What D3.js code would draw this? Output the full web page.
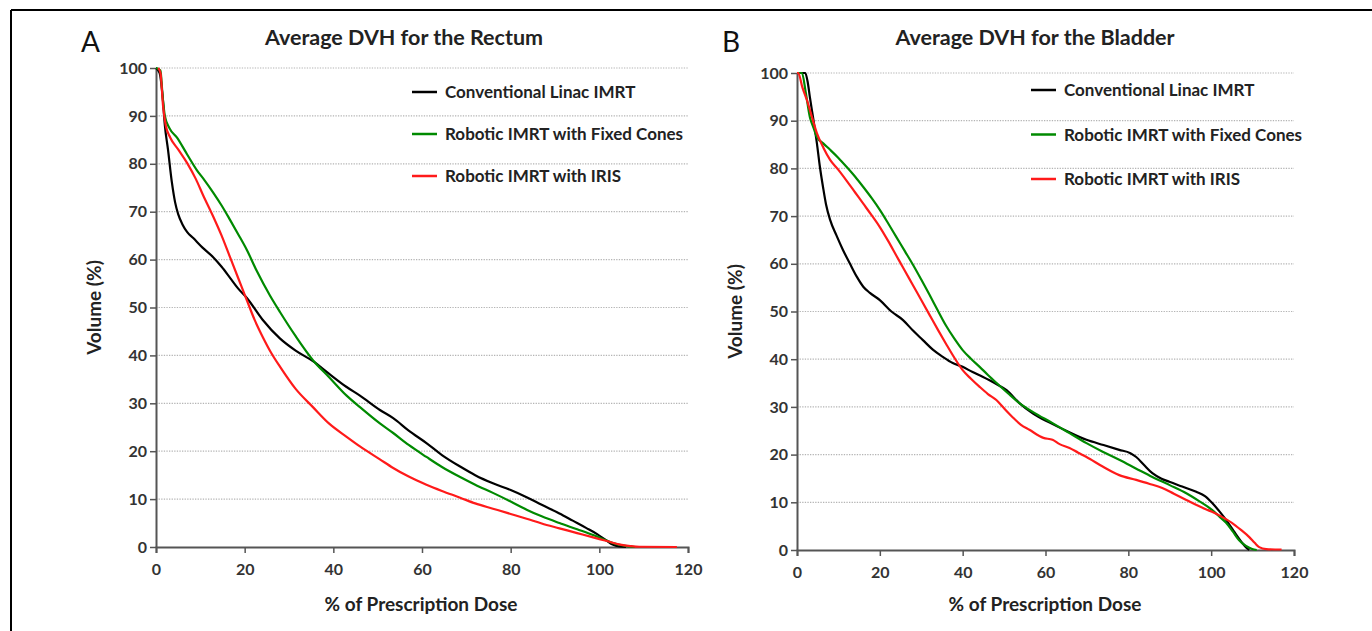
<!DOCTYPE html>
<html>
<head>
<meta charset="utf-8">
<script src="https://cdn.jsdelivr.net/npm/d3@7"></script>
<style>
  body { margin: 0; background: #fff; }
  text { font-family: Lato, "Open Sans", sans-serif; }
  .tick text { font-size: 16px; font-weight: bold; fill: #333; }
</style>
</head>
<body>
<div id="chart"></div>
<script>
// DVH curves: [dose %, volume %]
const rectumConventional = [[0,100],[0.8,99],[1.5,94],[2,88],[2.7,83],[3.6,76],[4.3,72],[5,69.5],[6,67.3],[7,65.8],[8.4,64.5],[10.5,62.5],[12.9,60.5],[14.8,58.5],[16.7,56.2],[18.5,54],[20.5,52],[24,47.5],[28,43.5],[31.5,41],[35.4,38.8],[39,36.2],[43,33.4],[46,31.6],[50.5,28.6],[53.5,26.9],[57,24.3],[61,21.7],[64.5,19.2],[68.6,16.8],[72,15],[76,13.3],[80,11.9],[83.6,10.4],[87,8.8],[91,7],[94,5.5],[97,4],[99.5,2.7],[101.7,1.3],[103,0.5],[104.5,0.1],[106,0]];
const rectumFixedCones = [[0,100],[1,99.5],[1.5,94],[2,90],[3,87.5],[4.7,85.5],[7,82],[9.2,78.7],[11,76.5],[12.9,74],[14.8,71.3],[16.7,68.3],[18.6,65.2],[20.5,62],[22.8,57.5],[25.7,52.5],[28,49],[31.5,44],[35.4,39],[39,35.5],[43,31.6],[46,29.2],[50.5,25.8],[53.5,23.8],[57,21.3],[61,18.8],[64.5,16.7],[68.6,14.6],[72,13],[76,11.3],[80,9.5],[83.6,7.8],[87,6.4],[91,5],[95,3.7],[98.6,2.5],[101.5,1.4],[103.5,0.7],[105.5,0.3],[108,0]];
const rectumIris = [[0.5,100],[1,99],[1.6,92],[2.2,88],[3.2,85.5],[5,83],[7,80.2],[9,76.8],[10.6,73.5],[12.9,69],[14.8,65],[16.7,60.5],[18.6,56],[20.5,51.5],[22.3,47.3],[24.1,43.8],[26,40.5],[28,37.6],[31.5,33],[35.4,29.2],[39,25.8],[43,23],[46,21],[50.5,18.3],[53.5,16.5],[57,14.7],[61,13],[64.5,11.7],[68.6,10.3],[72,9.1],[76,8],[80,6.9],[83.6,5.9],[87,4.9],[91,3.9],[95,2.9],[98.6,2],[101.5,1.3],[104.7,0.5],[107,0.2],[109,0.05],[117.5,0]];

const bladderConventional = [[0,100],[2,100],[2.6,98],[3.1,95],[4,90],[4.8,85.3],[5.5,80.5],[6.3,76],[7,72.5],[8,69.2],[9.5,66],[11.1,62.9],[12.8,60],[14.5,57.2],[16,55.2],[17.6,53.9],[20,52.4],[22.8,50],[25.6,48.2],[28,46],[30.4,44],[32.8,42],[35.2,40.5],[37.6,39.2],[40,38.4],[42.4,37.3],[44.8,36.3],[47.7,35],[50.6,33.5],[53.7,30.8],[57,28.6],[61,26.7],[65,25],[69.9,23.1],[74,22],[77.8,21],[80.5,20.3],[81.9,19.5],[83.8,17.8],[85.8,16.1],[87.9,15],[89.9,14.3],[93,13.3],[96.4,12.2],[98.5,11.3],[100.2,9.9],[101.9,8.2],[103.6,6.3],[105.5,3.9],[107.5,1.5],[108.5,0.5],[109.2,0]];
const bladderFixedCones = [[0,100],[1.2,100],[2.1,96],[3.1,90.8],[4,88.5],[4.8,86.6],[6.4,85.2],[8,83.9],[10,82.2],[12,80.3],[14,78.3],[16,76.1],[18,73.8],[20,71.3],[22,68.5],[24,65.6],[26,62.7],[28,59.8],[30,56.7],[32,53.5],[34,50.2],[36,47],[38,44.3],[40,41.9],[42,40.1],[44.1,38.4],[46.1,36.7],[48.2,35],[51,32.8],[53.7,30.8],[57,28.9],[61.7,26.6],[65.8,24.5],[69.9,22.4],[73.8,20.6],[77.8,18.9],[81.8,17.1],[85.8,15.3],[90,13.6],[94,11.9],[97,10.3],[100.2,8.4],[102,7],[103.6,5.7],[105.2,3.9],[106.7,2.1],[108.3,0.9],[109.9,0.2],[111,0]];
const bladderIris = [[0,100],[0.3,100],[1.3,97],[2.4,94.3],[3.6,90.8],[4.8,87.4],[6.4,84.3],[8,81.8],[10,79.7],[12,77.4],[14,75],[16,72.6],[18,70.2],[20,67.7],[22,64.8],[24,61.7],[26,58.6],[28,55.5],[30,52.4],[32,49.3],[34,46.2],[36,43.2],[38,40.3],[40,37.7],[42,35.9],[44.1,34.2],[46.1,32.7],[48.2,31.4],[50,29.7],[52,27.9],[54,26.3],[56.1,25.2],[59.5,23.5],[61.7,23.1],[63.4,22.2],[65.8,21.4],[67.9,20.4],[69.9,19.5],[73.8,17.5],[77.8,15.7],[81.9,14.7],[85,13.9],[88.2,13],[91,11.8],[94,10.5],[97,9.2],[100.2,8],[102.5,7],[105,5.7],[107.2,4.2],[109.2,2.7],[110.5,1.5],[111.6,0.6],[113.3,0.2],[117,0.1]];

const seriesNames = ["Conventional Linac IMRT", "Robotic IMRT with Fixed Cones", "Robotic IMRT with IRIS"];
const seriesColors = ["#000000", "#008a00", "#ff1a1a"];
const xTicks = [0, 20, 40, 60, 80, 100, 120];
const yTicks = [0, 10, 20, 30, 40, 50, 60, 70, 80, 90, 100];

const width = 1372, height = 631;

const svg = d3.select("#chart")
    .append("svg")
    .attr("width", width)
    .attr("height", height);

// frame lines at top and left
svg.append("line").attr("x1", 11).attr("x2", width).attr("y1", 10).attr("y2", 10)
    .attr("stroke", "#000").attr("stroke-width", 2);
svg.append("line").attr("x1", 11).attr("x2", 11).attr("y1", 10).attr("y2", height)
    .attr("stroke", "#000").attr("stroke-width", 2);

const panels = [
    { letter: "A", title: "Average DVH for the Rectum", series: [rectumConventional, rectumFixedCones, rectumIris],
      left: 156, right: 688, top: 68, bottom: 547, letterX: 81, titleX: 404, legendX: 412, legendY: 92, legendGap: 42, xLabelX: 421 },
    { letter: "B", title: "Average DVH for the Bladder", series: [bladderConventional, bladderFixedCones, bladderIris],
      left: 797, right: 1294, top: 73, bottom: 550, letterX: 722, titleX: 1035, legendX: 1031, legendY: 90, legendGap: 44.5, xLabelX: 1045 }
];

panels.forEach(p => {
    const g = svg.append("g");

    let x = d3.scaleLinear().domain([0, 120]).range([p.left, p.right]);
    let y = d3.scaleLinear().domain([0, 100]).range([p.bottom, p.top]);

    // dotted gridlines
    g.append("g")
        .selectAll("line")
        .data(yTicks.filter(d => d > 0))
        .join("line")
        .attr("x1", x(0)).attr("x2", x(120))
        .attr("y1", d => y(d)).attr("y2", d => y(d))
        .attr("stroke", "#b4b4b4")
        .attr("stroke-width", 1.2)
        .attr("stroke-dasharray", "1.3,1.3");

    // axes
    const xAxis = g.append("g")
        .attr("transform", `translate(0,${p.bottom})`)
        .call(d3.axisBottom(x).tickValues(xTicks).tickSize(6).tickPadding(11).tickSizeOuter(6));
    const yAxis = g.append("g")
        .attr("transform", `translate(${p.left},0)`)
        .call(d3.axisLeft(y).tickValues(yTicks).tickSize(6).tickPadding(3).tickSizeOuter(0));
    [xAxis, yAxis].forEach(a => {
        a.select(".domain").attr("stroke", "#555").attr("stroke-width", 2);
        a.selectAll(".tick line").attr("stroke", "#555").attr("stroke-width", 1.5);
    });

    // curves
    let line = d3.line()
        .x(d => x(d[0]))
        .y(d => y(d[1]))
        .curve(d3.curveMonotoneX);

    p.series.forEach((s, i) => {
        g.append("path")
            .datum(s)
            .attr("d", line)
            .attr("fill", "none")
            .attr("stroke", seriesColors[i])
            .attr("stroke-width", 2.2);
    });

    // legend
    seriesNames.forEach((name, i) => {
        const ly = p.legendY + i * p.legendGap;
        g.append("line")
            .attr("x1", p.legendX).attr("x2", p.legendX + 25)
            .attr("y1", ly).attr("y2", ly)
            .attr("stroke", seriesColors[i]).attr("stroke-width", 2.5);
        g.append("text")
            .attr("x", p.legendX + 33)
            .attr("y", ly + 6)
            .attr("font-size", 17)
            .attr("font-weight", "bold")
            .attr("fill", "#222")
            .text(name);
    });

    // titles and labels
    g.append("text")
        .attr("x", p.titleX)
        .attr("y", 45)
        .attr("text-anchor", "middle")
        .attr("font-size", 21.5)
        .attr("font-weight", "bold")
        .attr("fill", "#222")
        .text(p.title);

    g.append("text")
        .attr("x", p.letterX)
        .attr("y", 52)
        .attr("font-family", "Liberation Sans, Arial, sans-serif")
        .attr("font-size", 28)
        .attr("fill", "#111")
        .text(p.letter);

    g.append("text")
        .attr("x", p.xLabelX)
        .attr("y", 611)
        .attr("text-anchor", "middle")
        .attr("font-size", 19)
        .attr("font-weight", "bold")
        .attr("fill", "#222")
        .text("% of Prescription Dose");

    g.append("text")
        .attr("transform", `translate(${p.left - 55},${(p.top + p.bottom) / 2}) rotate(-90)`)
        .attr("text-anchor", "middle")
        .attr("font-size", 19)
        .attr("font-weight", "bold")
        .attr("fill", "#222")
        .text("Volume (%)");
});
</script>
</body>
</html>
